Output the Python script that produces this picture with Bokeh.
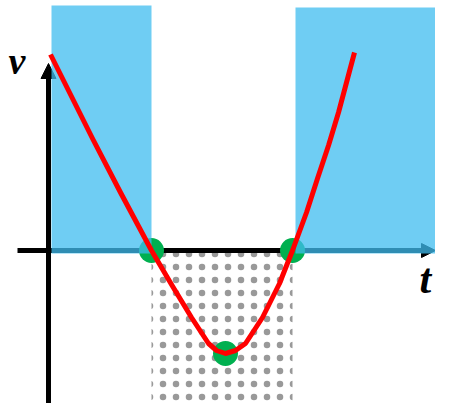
from bokeh.plotting import figure
from bokeh.models import Range1d, Arrow, NormalHead
from bokeh.embed import file_html
from bokeh.resources import INLINE
from bokeh.core.properties import value

# ---- data (drawing units: 1 unit ~ 1 px) ----
# velocity curve v(t)
curve_t = [2, 44, 72, 103, 123, 143, 160, 168, 177, 187, 197, 214, 231, 244, 258, 269, 280, 290, 306]
curve_v = [196, 112, 58, 0, -34, -67, -93, -100, -103, -100, -93, -67, -33, 0, 38, 72, 105, 138, 198]

# marked points: the two zeros and the minimum
mark_t = [103, 244, 177]
mark_v = [0, 0, -103]

# regions where v > 0 (blue) and v < 0 (dotted)
blue_left = [3, 247]
blue_right = [103, 394]
blue_top = [245, 243]
blue_bottom = [-3, -3]

neg_left = [103]
neg_right = [244]
neg_top = [0]
neg_bottom = [-175]

# axes extents
t_axis = [-31, 387]
v_axis = [-156, 187]

# axis labels
label_text = ["v", "t"]
label_t = [-40, 371]
label_v = [190, -28]
label_size = ["38px", "42px"]

p = figure(width=435, height=403,
           x_range=Range1d(-48, 387), y_range=Range1d(-153, 250),
           x_axis_type=None, y_axis_type=None,
           output_backend="svg", toolbar_location=None, min_border=0)
p.outline_line_color = None
p.background_fill_color = "white"
p.border_fill_color = "white"

# axes with arrow heads
p.add_layout(Arrow(end=NormalHead(size=14, fill_color="black", line_color="black", line_width=1),
                   x_start=t_axis[0], y_start=0, x_end=t_axis[1], y_end=0,
                   line_width=5, line_color="black", level="underlay"))
p.add_layout(Arrow(end=NormalHead(size=15, fill_color="black", line_color="black", line_width=1),
                   x_start=0, y_start=v_axis[0], x_end=0, y_end=v_axis[1],
                   line_width=5, line_color="black", level="underlay"))

# dotted region (v < 0)
p.quad(left=neg_left, right=neg_right, top=neg_top, bottom=neg_bottom,
       fill_alpha=0, line_color=None,
       hatch_pattern="dot", hatch_color="black", hatch_scale=13,
       hatch_weight=1, hatch_alpha=0.4)

# green points
p.scatter(x=mark_t, y=mark_v, size=25, fill_color="#00B050", line_color=None)

# blue regions (v > 0)
p.quad(left=blue_left, right=blue_right, top=blue_top, bottom=blue_bottom,
       fill_color="#3FBCEF", fill_alpha=0.75, line_color=None)

# the velocity curve
p.line(curve_t, curve_v, line_color="#FF0000", line_width=5, line_join="round")

# labels
for txt, x, y, sz in zip(label_text, label_t, label_v, label_size):
    p.text(x=[x], y=[y], text=[txt], text_font=value("Liberation Serif"),
           text_font_style="bold italic", text_font_size=sz,
           text_baseline="alphabetic", text_align="left", text_color="black")

open("out.html", "w").write(file_html(p, INLINE))
